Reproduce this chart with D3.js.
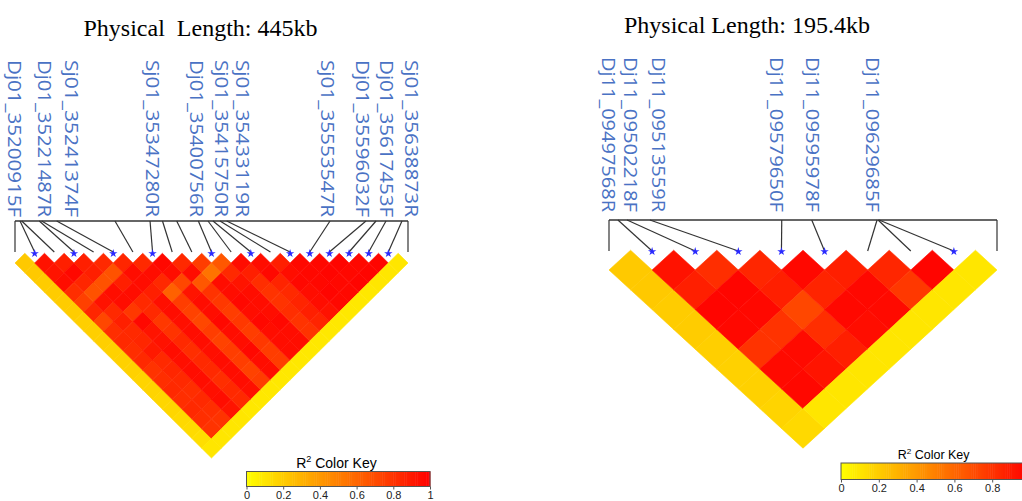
<!DOCTYPE html>
<html>
<head>
<meta charset="utf-8">
<script src="https://cdn.jsdelivr.net/npm/d3@7"></script>
<style>
  body { margin: 0; background: #fff; }
  svg { display: block; }
</style>
</head>
<body>
<svg id="chart" width="1022" height="501"></svg>
<script>
// ---- left block (chr01) ----
var leftLengthKb = 445;
var leftMarkerKb = [0, 5.7, 7.6, 27.5, 30.2, 47.2, 113.2, 152.9, 167, 183.1, 207.6,
                    218.5, 224.2, 232.1, 239.7, 356.7, 397.4, 408.8, 420.1, 438.2, 445];
var leftStars = [2, 4, 6, 8, 11, 13, 15, 16, 17, 18, 19, 20];
var leftNames = ['Dj01_35200915F', 'Dj01_35221487R', 'Sj01_35241374F', 'Sj01_35347280R',
                 'Dj01_35400756R', 'Sj01_35415750R', 'Sj01_35433119R', 'Sj01_35553547R',
                 'Dj01_35596032F', 'Dj01_35617453F', 'Sj01_35638873R'];
var leftNameKb = [0, 34, 64.5, 155.7, 205.5, 234.4, 258.2, 353.8, 393.5, 421.2, 449];
// r2, row i holds pairs (i, i+1) ... (i, n)
var leftR2 = [
  [0.21, 0.21, 0.2, 0.2, 0.2, 0.2, 0.19, 0.19, 0.19, 0.18, 0.18, 0.18, 0.17, 0.17, 0.16, 0.16, 0.15, 0.14, 0.13, 0.1],
  [0.93, 0.92, 0.95, 0.82, 0.75, 0.85, 0.72, 0.82, 0.84, 0.82, 0.84, 0.8, 0.82, 0.84, 0.82, 0.84, 0.82, 0.8, 0.1],
  [0.88, 0.97, 0.85, 0.68, 0.93, 0.84, 0.88, 0.84, 0.85, 0.9, 0.84, 0.85, 0.84, 0.82, 0.84, 0.82, 0.8, 0.1],
  [0.88, 0.88, 0.68, 0.95, 0.95, 0.78, 0.97, 0.92, 0.93, 0.95, 0.94, 0.95, 0.95, 0.94, 0.95, 0.92, 0.1],
  [0.84, 0.68, 0.88, 0.95, 0.84, 0.84, 0.78, 0.8, 0.84, 0.82, 0.84, 0.84, 0.82, 0.84, 0.84, 0.09],
  [0.85, 0.95, 0.95, 0.88, 0.94, 0.95, 0.94, 0.95, 0.95, 0.94, 0.95, 0.95, 0.95, 0.94, 0.09],
  [0.84, 0.95, 0.84, 0.62, 0.76, 0.74, 0.72, 0.76, 0.74, 0.76, 0.76, 0.74, 0.76, 0.09],
  [0.97, 0.95, 0.72, 0.92, 0.95, 0.95, 0.97, 0.95, 0.95, 0.97, 0.95, 0.95, 0.09],
  [0.84, 0.95, 0.66, 0.8, 0.78, 0.76, 0.78, 0.76, 0.78, 0.76, 0.76, 0.09],
  [0.76, 0.55, 0.95, 0.95, 0.97, 0.95, 0.97, 0.95, 0.95, 0.95, 0.09],
  [0.66, 0.84, 0.92, 0.95, 0.95, 0.95, 0.97, 0.95, 0.95, 0.09],
  [0.95, 0.88, 0.82, 0.8, 0.8, 0.82, 0.8, 0.8, 0.09],
  [0.95, 0.97, 0.86, 0.84, 0.86, 0.88, 0.86, 0.09],
  [0.88, 0.95, 0.97, 0.95, 0.95, 0.93, 0.09],
  [0.97, 0.97, 0.97, 0.98, 0.97, 0.09],
  [0.97, 0.98, 0.97, 0.97, 0.09],
  [0.98, 0.97, 0.98, 0.09],
  [0.97, 0.98, 0.1],
  [0.98, 0.1],
  [0.1]
];

// ---- right block (chr11) ----
var rightLengthKb = 195.4;
var rightMarkerKb = [0, 4.5, 9.1, 20.6, 87, 102.1, 135, 135.5, 136, 195.4];
var rightStars = [2, 3, 4, 5, 6, 9];
var rightNames = ['Dj11_09497568R', 'Dj11_09502218F', 'Dj11_09513559R',
                  'Dj11_09579650F', 'Dj11_09595978F', 'Dj11_09629685F'];
var rightNameKb = [0, 11.1, 25.2, 84.6, 102.5, 133];
var rightR2 = [
  [0.21, 0.21, 0.2, 0.2, 0.19, 0.18, 0.18, 0.17, 0.15],
  [0.93, 0.88, 0.98, 0.97, 0.8, 0.96, 0.97, 0.1],
  [0.82, 0.98, 0.97, 0.8, 0.96, 0.92, 0.1],
  [0.85, 0.88, 0.72, 0.82, 0.88, 0.1],
  [0.97, 0.86, 0.97, 0.95, 0.1],
  [0.88, 0.97, 0.96, 0.1],
  [0.85, 0.78, 0.1],
  [0.98, 0.1],
  [0.1]
];

var keyTicks = [0, 0.2, 0.4, 0.6, 0.8, 1];

// yellow (0) -> red (1)
var color = d3.scaleSequential(function (t) {
    return d3.hsl(60 * (1 - t), 1, 0.5).toString();
}).domain([0, 1]);

var svg = d3.select('#chart');
var W = +svg.attr('width');

var drawLD = function (o) {
    var g = svg.append('g');
    var n = o.markerKb.length;
    var X = d3.scaleLinear().domain([1, n]).range([o.x0, o.x1]);
    var phys = d3.scaleLinear().domain([0, o.lengthKb]).range([o.x0, o.x1]);
    var hx = (X(2) - X(1)) / 2, dy = o.dy;

    // cells
    var cells = [];
    o.r2.forEach(function (row, r) {
        row.forEach(function (v, c) {
            cells.push({i: r + 1, j: r + 2 + c, v: v});
        });
    });
    g.selectAll('path.cell')
        .data(cells)
        .enter()
        .append('path')
        .attr('class', 'cell')
        .attr('d', function (d) {
            var cx = (X(d.i) + X(d.j)) / 2, cy = o.notchY + (d.j - d.i - 1) * dy;
            return 'M' + cx + ',' + (cy - dy) + 'L' + (cx + hx) + ',' + cy +
                   'L' + cx + ',' + (cy + dy) + 'L' + (cx - hx) + ',' + cy + 'Z';
        })
        .attr('fill', function (d) { return color(d.v); })
        .attr('stroke', function (d) { return color(d.v); })
        .attr('stroke-width', 0.6);

    // genetic map line + segments
    g.append('line')
        .attr('x1', phys(0)).attr('x2', phys(o.lengthKb))
        .attr('y1', o.mapY).attr('y2', o.mapY)
        .attr('stroke', '#333').attr('stroke-width', 1.4);
    g.selectAll('line.seg')
        .data(o.markerKb)
        .enter()
        .append('line')
        .attr('class', 'seg')
        .attr('x1', function (d) { return phys(d); })
        .attr('y1', o.mapY)
        .attr('x2', function (d, k) { return X(k + 1); })
        .attr('y2', o.tipY)
        .attr('stroke', '#333').attr('stroke-width', 1.2);

    // highlighted markers
    g.selectAll('path.star')
        .data(o.stars)
        .enter()
        .append('path')
        .attr('class', 'star')
        .attr('d', d3.symbol().type(d3.symbolStar).size(22))
        .attr('transform', function (d) { return 'translate(' + X(d) + ',' + o.starY + ')'; })
        .attr('fill', '#2a2aff');

    // marker names
    g.selectAll('text.snp')
        .data(o.names)
        .enter()
        .append('text')
        .attr('class', 'snp')
        .attr('transform', function (d, k) {
            return 'translate(' + phys(o.nameKb[k]) + ',' + o.labelEndY + ') rotate(90)';
        })
        .attr('text-anchor', 'end')
        .attr('dy', '0.35em')
        .attr('textLength', o.labelLen)
        .attr('lengthAdjust', 'spacingAndGlyphs')
        .style('font-family', '"Open Sans", sans-serif')
        .style('font-size', '19px')
        .attr('fill', '#4a72c4')
        .text(function (d) { return d; });

    // title
    g.append('text')
        .attr('x', o.titleX).attr('y', o.titleY)
        .attr('text-anchor', 'middle')
        .style('font-family', '"Liberation Serif", "Times New Roman", serif')
        .style('font-size', '24px')
        .style('white-space', 'pre')
        .text(o.title);

    // colour key
    var k = o.key;
    var kx = d3.scaleLinear().domain([0, 1]).range([k.x, k.x + k.w]);
    var kt = g.append('text')
        .attr('x', k.x + k.w * 0.49).attr('y', k.y - 4)
        .attr('text-anchor', 'middle')
        .style('font-family', '"Liberation Sans", Arial, sans-serif')
        .style('font-size', k.fs + 'px');
    kt.append('tspan').text('R');
    kt.append('tspan').attr('dy', -k.fs * 0.4).style('font-size', (k.fs * 0.65) + 'px').text('2');
    kt.append('tspan').attr('dy', k.fs * 0.4).text(' Color Key');
    var steps = d3.range(0, 1, 0.01);
    g.selectAll('rect.key')
        .data(steps)
        .enter()
        .append('rect')
        .attr('class', 'key')
        .attr('x', function (d) { return kx(d); })
        .attr('y', k.y)
        .attr('width', kx(0.01) - kx(0) + 0.5)
        .attr('height', k.h)
        .attr('fill', function (d) { return color(d + 0.005); });
    g.append('rect')
        .attr('x', k.x).attr('y', k.y).attr('width', k.w).attr('height', k.h)
        .attr('fill', 'none').attr('stroke', '#555').attr('stroke-width', 1);
    // only ticks that land inside the page
    var shown = keyTicks.filter(function (d) { return kx(d) + 4 < W; });
    var axis = d3.axisBottom(kx).tickValues(shown).tickSize(3).tickPadding(2)
        .tickFormat(function (d) { return d === 0 || d === 1 ? d : d3.format('.1f')(d); });
    var ag = g.append('g').attr('transform', 'translate(0,' + (k.y + k.h) + ')').call(axis);
    ag.select('.domain').remove();
    ag.selectAll('line').attr('stroke', '#555');
    ag.selectAll('text')
        .style('font-family', '"Liberation Sans", Arial, sans-serif')
        .style('font-size', k.tfs + 'px')
        .attr('fill', '#222')
        .attr('dy', k.tdy);
};

drawLD({
    markerKb: leftMarkerKb, lengthKb: leftLengthKb, r2: leftR2, stars: leftStars,
    names: leftNames, nameKb: leftNameKb,
    x0: 15, x1: 408, mapY: 221, tipY: 252, starY: 253.5, notchY: 263, dy: 9.75,
    labelEndY: 217, labelLen: 157,
    title: 'Physical  Length: 445kb', titleX: 200.5, titleY: 36,
    key: {x: 246.5, y: 471.5, w: 183.5, h: 15, fs: 14, tfs: 11, tdy: '0.72em'}
});

drawLD({
    markerKb: rightMarkerKb, lengthKb: rightLengthKb, r2: rightR2, stars: rightStars,
    names: rightNames, nameKb: rightNameKb,
    x0: 609, x1: 997, mapY: 220, tipY: 251, starY: 251.5, notchY: 270, dy: 19.8,
    labelEndY: 212, labelLen: 155,
    title: 'Physical Length: 195.4kb', titleX: 747, titleY: 33,
    key: {x: 841, y: 463, w: 189, h: 16.5, fs: 12.5, tfs: 11, tdy: '0.71em'}
});
</script>
</body>
</html>
